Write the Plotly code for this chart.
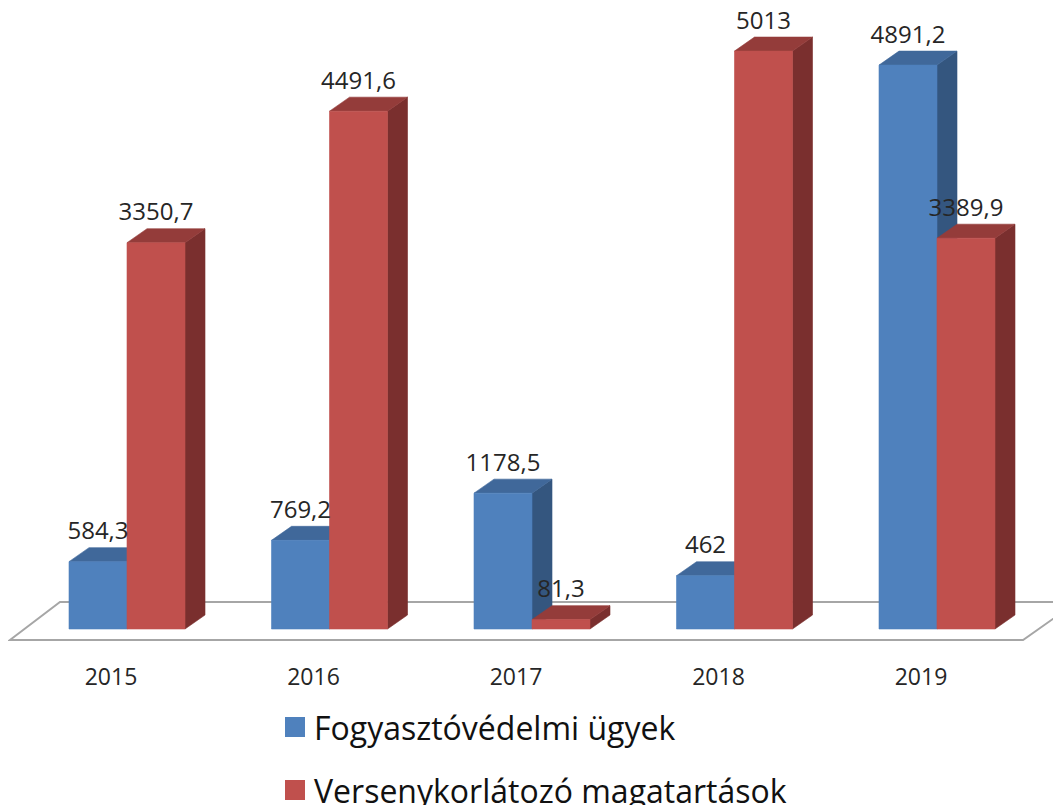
import plotly.graph_objects as go

# ---- data ----
years = ["2015", "2016", "2017", "2018", "2019"]
fogyasztovedelmi = [584.3, 769.2, 1178.5, 462, 4891.2]
versenykorlatozo = [3350.7, 4491.6, 81.3, 5013, 3389.9]
series_names = ["Fogyasztóvédelmi ügyek", "Versenykorlátozó magatartások"]

# ---- style / geometry ----
W, H = 1061, 805
PAGE_OFF = 8            # browser body margin
FONT = "Open Sans"
TXT = "#262626"
BAR_W = 0.2864          # width of one bar (category units)
DEPTH_X = 0.0988        # 3D depth shift in x (category units)
DEPTH_Y = 121.4         # 3D depth shift in y (value units)
LABEL_GAP = 20          # value units between back-top edge and label
colors = {
    0: dict(front="#4F81BD", top="#40689A", side="#34567F"),
    1: dict(front="#C0504D", top="#943C3A", side="#7A2F2E"),
}
X_RANGE = [-0.5877, 4.6519]
Y_RANGE = [-277.6, 5386.4]
MARGIN_B = 152
PLOT_H = H - MARGIN_B


def fmt(v):
    return f"{v:g}".replace(".", ",")


def faces(values, offset):
    fx, fy, tx, ty, sx, sy = [], [], [], [], [], []
    for i, v in enumerate(values):
        L = i + offset
        R = L + BAR_W
        fx += [L, R, R, L, L, None]
        fy += [0, 0, v, v, 0, None]
        tx += [L, R, R + DEPTH_X, L + DEPTH_X, L, None]
        ty += [v, v, v + DEPTH_Y, v + DEPTH_Y, v, None]
        sx += [R, R + DEPTH_X, R + DEPTH_X, R, R, None]
        sy += [0, DEPTH_Y, v + DEPTH_Y, v, 0, None]
    return (fx, fy), (tx, ty), (sx, sy)


fig = go.Figure()
for k, values in enumerate([fogyasztovedelmi, versenykorlatozo]):
    offset = -BAR_W if k == 0 else 0.0
    front, top, side = faces(values, offset)
    c = colors[k]
    for (xs, ys), col in [(side, c["side"]), (top, c["top"]), (front, c["front"])]:
        fig.add_trace(go.Scatter(
            x=xs, y=ys, mode="lines", fill="toself", fillcolor=col,
            line=dict(color=col, width=0.6), hoverinfo="skip",
            showlegend=False, name=series_names[k]))

# data labels
for k, values in enumerate([fogyasztovedelmi, versenykorlatozo]):
    offset = -BAR_W if k == 0 else 0.0
    fig.add_trace(go.Scatter(
        x=[i + offset + BAR_W / 2 for i in range(len(values))],
        y=[v + DEPTH_Y + LABEL_GAP for v in values],
        mode="text", text=[fmt(v) for v in values],
        textposition="top center", cliponaxis=False,
        textfont=dict(family=FONT, size=24, color=TXT),
        hoverinfo="skip", showlegend=False))

# floor (3D base plane)
floor = dict(fl=(-0.578, -95.4), bl=(-0.331, 234), br=(4.691, 234), fr=(4.425, -95.4))
path = "M {} {} L {} {} L {} {} L {} {} Z".format(
    *floor["fl"], *floor["bl"], *floor["br"], *floor["fr"])
fig.add_shape(type="path", path=path, xref="x", yref="y", layer="below",
              line=dict(color="#A6A6A6", width=2), fillcolor="white")


def py(p):
    return (PLOT_H - (p - PAGE_OFF)) / PLOT_H


def px(p):
    return (p - PAGE_OFF) / W


# legend (swatches + text)
legend_rows = [(717, colors[0]["front"]), (780, colors[1]["front"])]
for (top_px, col), name in zip(legend_rows, series_names):
    fig.add_shape(type="rect", xref="paper", yref="paper",
                  x0=px(285), x1=px(305), y0=py(top_px + 20), y1=py(top_px),
                  fillcolor=col, line=dict(width=0))
    fig.add_annotation(xref="paper", yref="paper", x=px(312), y=py(top_px + 10),
                       xanchor="left", yanchor="middle", showarrow=False,
                       text=name, font=dict(family=FONT, size=32, color="#111111"))

fig.update_layout(
    width=W, height=H,
    margin=dict(l=0, r=0, t=0, b=MARGIN_B, pad=0),
    paper_bgcolor="white", plot_bgcolor="white",
    showlegend=False,
    xaxis=dict(range=X_RANGE, tickvals=[i - 0.079 for i in range(len(years))],
               ticktext=years, showgrid=False, zeroline=False, showline=False,
               ticks="", tickfont=dict(family=FONT, size=23, color=TXT)),
    yaxis=dict(range=Y_RANGE, visible=False, showgrid=False, zeroline=False),
)

fig.write_html("out.html")
